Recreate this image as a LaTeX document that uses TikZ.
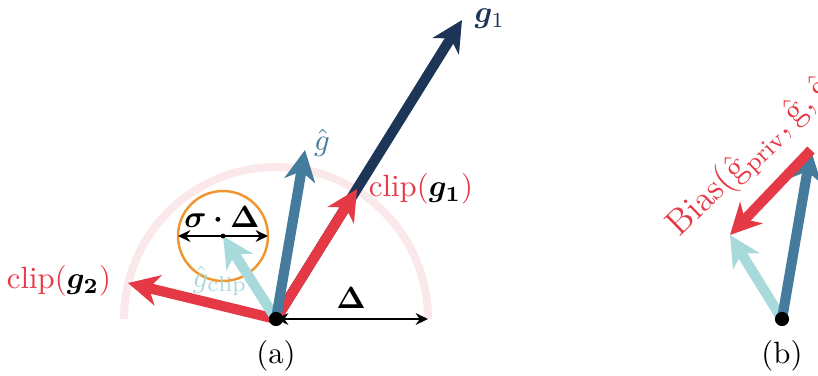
\documentclass[tikz,border=0pt]{standalone}
\usepackage{amsmath,bm}
\usetikzlibrary{arrows.meta}
\definecolor{navy}{HTML}{1D3557}
\definecolor{cred}{HTML}{E63946}
\definecolor{steel}{HTML}{457B9D}
\definecolor{cyanl}{HTML}{A8DADC}
\definecolor{pinkl}{HTML}{FBE8EA}
\definecolor{orng}{HTML}{F0962E}
\begin{document}
\begin{tikzpicture}[x=0.325pt,y=-0.325pt,
  vec/.style={line width=3.3pt,-{Stealth[length=10pt,width=10pt,inset=3pt]}},
  twoway/.style={line width=0.7pt,{Stealth[length=4pt,width=3.8pt]}-{Stealth[length=4pt,width=3.8pt]}},
  dotnode/.style={circle,fill=black,inner sep=0pt,minimum size=4.6pt},
  lab/.style={inner sep=1pt}]
\useasboundingbox (0,0) rectangle (818,375);
\clip (0,0) rectangle (818,375);
% (a) points
\coordinate (O) at (276,319);
\coordinate (Ar) at (428,319);
\coordinate (G1) at (462,20);
\coordinate (C1) at (357,189);
\coordinate (C2) at (128,283);
\coordinate (Gh) at (305,150);
\coordinate (C) at (223,236);
\coordinate (CL) at (178,236);
\coordinate (CR) at (268,236);
% arc and circle
\draw[pinkl,line width=2.6pt] (Ar) arc[start angle=0,end angle=-180,radius=152];
\draw[orng,line width=0.8pt] (C) circle[radius=45];
% vectors
\draw[vec,navy] (O) -- (G1);
\draw[vec,cred] (O) -- (C1);
\draw[vec,cred] (O) -- (C2);
\draw[vec,cyanl] (O) -- (C);
\draw[vec,steel] (O) -- (Gh);
\draw[twoway] (O) -- (Ar);
\draw[twoway] (CL) -- (CR);
\node[dotnode,minimum size=1.6pt] (cdot) at (C) {};
\node[dotnode] (odot) at (O) {};
% labels (a)
\node[lab,text=navy] (lg1) at (490,19) {$\bm{g}_1$};
\node[lab,text=cred] (lc1) at (421,189) {clip(\textcolor{black}{$\bm{g_1}$})};
\node[lab,text=cred] (lc2) at (59,281) {clip(\textcolor{black}{$\bm{g_2}$})};
\node[lab,text=steel] (lgh) at (322,143) {$\hat{g}$};
\node[lab,text=cyanl] (lgc) at (220,281) {$\hat{g}_{\text{clip}}$};
\node[lab] (lsd) at (222,217) {$\bm{\sigma\cdot\Delta}$};
\node[lab] (ld) at (351,298) {$\bm{\Delta}$};
\node[lab] (la) at (276,356) {(a)};
% (b)
\coordinate (Ob) at (782,319);
\coordinate (Ghb) at (811,150);
\coordinate (Gcb) at (730,235);
\draw[vec,cyanl] (Ob) -- (Gcb);
\draw[vec,steel] (Ob) -- (Ghb);
\draw[vec,cred] (Ghb) -- (Gcb);
\node[dotnode] (obdot) at (Ob) {};
\node[lab,text=cred,rotate=44,anchor=base west,inner sep=0pt,font=\fontsize{11.5}{14}\selectfont] (lbias) at (679,238) {Bias$(\hat{\mathrm{g}}_{\mathrm{priv}},\hat{\mathrm{g}},\hat{\mathrm{g}}_{\mathrm{clip}})$};
\node[lab] (lb) at (782,356) {(b)};
\end{tikzpicture}
\end{document}
